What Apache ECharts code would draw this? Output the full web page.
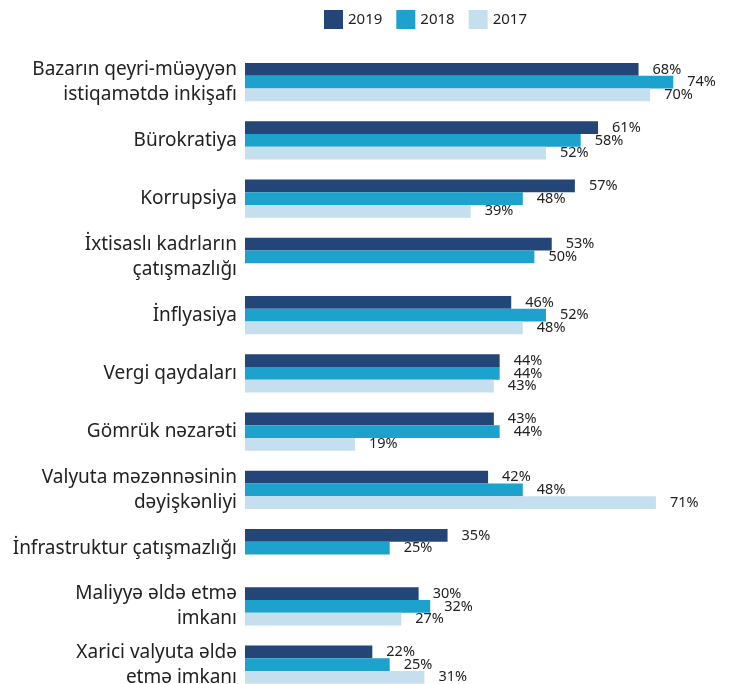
<!DOCTYPE html>
<html>
<head>
<meta charset="utf-8">
<script src="https://cdn.jsdelivr.net/npm/echarts@6/dist/echarts.min.js"></script>
<style>
html,body{margin:0;padding:0;background:#fff;}
#chart{width:729px;height:684px;}
</style>
</head>
<body>
<div id="chart"></div>
<script>
var categories = [
  "Bazarın qeyri-müəyyən\nistiqamətdə inkişafı",
  "Bürokratiya",
  "Korrupsiya",
  "İxtisaslı kadrların\nçatışmazlığı",
  "İnflyasiya",
  "Vergi qaydaları",
  "Gömrük nəzarəti",
  "Valyuta məzənnəsinin\ndəyişkənliyi",
  "İnfrastruktur çatışmazlığı",
  "Maliyyə əldə etmə\nimkanı",
  "Xarici valyuta əldə\netmə imkanı"
];
var seriesNames = ["2019", "2018", "2017"];
var values2019 = [68, 61, 57, 53, 46, 44, 43, 42, 35, 30, 22];
var values2018 = [74, 58, 48, 50, 52, 44, 44, 48, 25, 32, 25];
var values2017 = [70, 52, 39, null, 48, 43, 19, 71, null, 27, 31];
var colors = ["#234577", "#1da1cd", "#c6dfee"];

var FONT = "Noto Sans";
var chart = echarts.init(document.getElementById('chart'));
function mk(name, data, color) {
  return {
    name: name,
    type: 'bar',
    data: data,
    barWidth: 12.7,
    barGap: '0%',
    itemStyle: { color: color },
    label: {
      show: true,
      position: 'right',
      distance: 14,
      formatter: function (p) { return p.value == null ? '' : p.value + '%'; },
      color: '#222',
      fontFamily: FONT,
      fontSize: 14.5
    }
  };
}
chart.setOption({
  animation: false,
  textStyle: { fontFamily: FONT },
  legend: {
    data: seriesNames,
    left: 324,
    top: 10,
    padding: 0,
    itemWidth: 19,
    itemHeight: 19,
    itemGap: 14,
    icon: 'rect',
    textStyle: { fontSize: 15, color: '#222', fontFamily: FONT }
  },
  grid: { left: 245, top: 53, height: 640.75, right: 21, containLabel: false, outerBoundsMode: 'none' },
  xAxis: {
    type: 'value', min: 0, max: 80,
    show: false,
    splitLine: { show: false }
  },
  yAxis: {
    type: 'category',
    data: categories,
    inverse: true,
    axisLine: { show: false },
    axisTick: { show: false },
    axisLabel: {
      margin: 8,
      fontSize: 19,
      lineHeight: 25,
      color: '#222',
      fontFamily: FONT,
      align: 'right'
    }
  },
  series: [
    mk(seriesNames[0], values2019, colors[0]),
    mk(seriesNames[1], values2018, colors[1]),
    mk(seriesNames[2], values2017, colors[2])
  ]
});
</script>
</body>
</html>
